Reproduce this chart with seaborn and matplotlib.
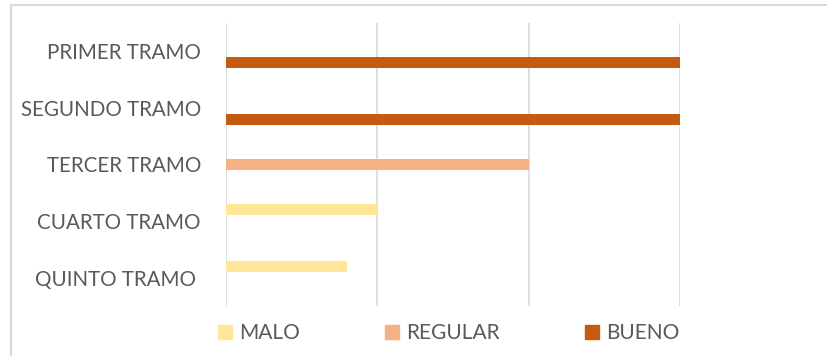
import matplotlib
matplotlib.use("Agg")
import matplotlib.pyplot as plt
from matplotlib.lines import Line2D
import pandas as pd
import seaborn as sns

tramos = ["PRIMER TRAMO", "SEGUNDO TRAMO", "TERCER TRAMO", "CUARTO TRAMO", "QUINTO TRAMO "]
niveles = ["MALO", "REGULAR", "BUENO"]
malo = [0, 0, 0, 1, 0.8]
regular = [0, 0, 2, 0, 0]
bueno = [3, 3, 0, 0, 0]
colores = ["#FFE699", "#F4B183", "#C55A11"]

df = pd.DataFrame({"tramo": tramos * 3,
                   "nivel": [n for n in niveles for _ in tramos],
                   "valor": malo + regular + bueno})

sns.set_style("white")
plt.rcParams["font.family"] = ["Lato", "DejaVu Sans"]

fig = plt.figure(figsize=(8.28, 3.56), dpi=100)
ax = fig.add_axes([226 / 828, 1 - 306 / 356, (680 - 226) / 828, (306 - 23) / 356])

sns.barplot(data=df, y="tramo", x="valor", hue="nivel", order=tramos,
            hue_order=niveles, palette=colores, saturation=1, width=0.6,
            linewidth=0, orient="h", ax=ax, legend=False)

ax.set_xlim(0, 3)
ax.set_xticks([0, 1, 2, 3])
ax.xaxis.grid(True, color="#D9D9D9", linewidth=1.2)
ax.set_axisbelow(True)
ax.set_xticklabels([])
ax.tick_params(axis="x", length=0)
ax.tick_params(axis="y", length=0, pad=18, labelsize=14.8, labelcolor="#595959")
ax.set_xlabel("")
ax.set_ylabel("")
for s in ax.spines.values():
    s.set_visible(False)

# leyenda
handles = [plt.Rectangle((0, 0), 1, 1, color=c) for c in colores]
fig.legend(handles, niveles, loc="center", bbox_to_anchor=(449 / 828, 1 - 333 / 356),
           ncol=3, frameon=False, fontsize=15, handlelength=0.67, handleheight=0.67,
           handletextpad=0.34, columnspacing=4.1, labelcolor="#595959")

# borde del grafico
fig.add_artist(Line2D([11 / 828, 11 / 828], [0, 1 - 5 / 356], color="#D9D9D9", linewidth=1.5))
fig.add_artist(Line2D([11 / 828, 1], [1 - 5 / 356, 1 - 5 / 356], color="#D9D9D9", linewidth=1.5))

fig.savefig("out.png", dpi=100)
